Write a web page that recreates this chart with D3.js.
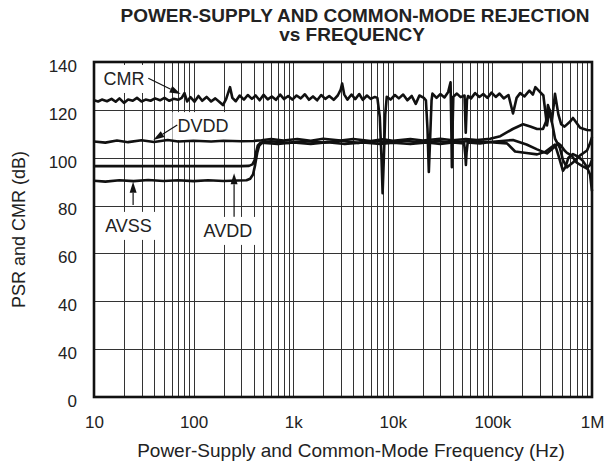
<!DOCTYPE html>
<html>
<head>
<meta charset="utf-8">
<script src="https://cdn.jsdelivr.net/npm/d3@7"></script>
<style>
  body { margin: 0; background: #fff; }
  text { font-family: "Liberation Sans", Arial, Helvetica, sans-serif; fill: #222; }
</style>
</head>
<body>
<svg width="614" height="464"></svg>
<script>
// tick values / labels (the source chart really prints "40" twice)
var yTicks = [0, 20, 40, 60, 80, 100, 120, 140];
var yTickLabels = ["0", "40", "40", "60", "80", "100", "120", "140"];
var xTicks = [10, 100, 1e3, 1e4, 1e5, 1e6];
var xTickLabels = ["10", "100", "1k", "10k", "100k", "1M"];

// [frequency Hz, dB]
var cmrData = [
  [10,124.0],[11,123.5],[12,124.3],[13.5,123.6],[15,124.6],[16.5,123.4],[18,124.8],[20,122.9],
  [22,124.3],[24.5,123.8],[27,125.0],[30,123.5],[33,124.3],[37,123.8],[41,124.8],[46,124.0],
  [51,125.0],[57,123.8],[63,124.6],[70,124.2],[76,125.0],[81,127.0],[86,123.5],[93,125.3],
  [102,123.4],[112,125.8],[122,123.8],[135,125.4],[150,123.5],[165,124.8],[182,123.3],[197,122.0],
  [212,124.5],[232,129.5],[245,125.0],[265,123.6],[290,126.0],[320,124.3],[350,126.2],[385,124.6],
  [420,126.0],[460,124.0],[505,126.3],[555,124.4],[610,125.6],[670,124.2],[740,126.4],[810,124.5],
  [890,125.8],[980,124.3],[1080,126.0],[1190,124.8],[1310,126.5],[1440,124.2],[1580,125.6],[1740,124.0],
  [1910,126.2],[2100,124.6],[2300,125.8],[2550,124.2],[2800,126.0],[3000,128.5],[3100,131.0],[3250,126.5],
  [3500,124.3],[3850,126.4],[4200,124.5],[4600,126.6],[5000,124.2],[5500,126.0],[6000,124.6],[6600,125.4],
  [7000,125.0],[7400,117],[7700,100],[7900,85.2],[8100,98],[8400,118],[8700,125.5],[9500,124.3],
  [10500,126.2],[11500,124.8],[12700,126.4],[14000,124.0],[15500,125.8],[17000,122.5],[18500,126.0],[20500,125.0],
  [21500,124],[22300,112],[23000,94.0],[23700,108],[24500,124],[25000,126.8],[27500,125.0],[30000,126.6],
  [33000,125.2],[36000,127.5],[38000,131.5],[38600,115],[39200,96],[39800,112],[40500,125.5],[44000,126.8],
  [48000,125.3],[52500,126.0],[54000,110.5],[55500,124],[57000,125.8],[61000,124.8],[67000,127.0],
  [74000,125.4],[81000,126.6],[89000,125.0],[98000,127.2],[108000,125.4],[118000,126.8],[130000,124.8],[145000,126.2],
  [161000,118.5],[175000,125.0],[190000,127.0],[210000,125.6],[235000,128.0],[255000,126.4],[270000,129.5],[300000,127.5],
  [325000,126.0],[353000,113.5],[375000,120],[395000,115],[425000,126.7],[460000,118],[490000,114],[530000,113],
  [600000,115],[644000,116.6],[760000,112.5],[891000,111.6],[1000000,111.5]
];

var dvddData = [
  [10,106.8],[13,106.3],[17,107.2],[22,106.5],[30,107.3],[40,106.6],[55,107.4],[70,106.8],
  [100,107.1],[150,106.8],[200,107.1],[300,106.9],[400,107.0],[480,107.3],[600,107.8],[800,107.2],
  [1100,107.8],[1500,107.1],[2000,107.9],[3000,107.2],[4000,107.8],[6000,107.0],[8000,107.7],[10000,107.1],
  [15000,107.8],[20000,107.2],[30000,107.9],[40000,107.3],[54000,107.8],[70000,107.4],[95000,107.9],[120000,109],
  [160000,112],[203000,114],[240000,113],[281000,112],[322000,112],[345000,115],[361000,122],[380000,119],
  [425000,108],[477000,104],[511000,99],[561000,96],[644000,98],[760000,101],[891000,103],[955000,106],[1000000,108.6]
];

var avddData = [
  [10,96.5],[100,96.5],[300,96.5],[360,96.6],[390,97.2],[410,99],[425,102.5],[440,105],
  [470,106.3],[520,106.2],[700,105.7],[1000,106.4],[1500,105.8],[2200,106.5],[3300,105.7],[5000,106.4],
  [7500,105.8],[10000,106.3],[15000,105.7],[22000,106.4],[30000,105.8],[40000,106.4],[52000,106.0],[53500,101],
  [54200,97],[55000,102],[56500,106.4],[75000,106.0],[95000,106.6],[161000,107.4],[220000,105.5],[281000,103.5],
  [353000,101.8],[425000,104.7],[460000,106],[490000,105],[530000,103],[561000,102],[620000,101],[700000,98],
  [800000,96.5],[891000,95.5],[955000,97],[1000000,99]
];

var avssData = [
  [10,90.4],[13,90.0],[18,90.6],[25,90.2],[35,90.7],[50,90.3],[70,90.6],[100,90.2],
  [140,90.6],[200,90.3],[280,90.5],[340,90.6],[370,91.2],[395,93],[415,97],[435,102],
  [455,105],[490,106.4],[600,106.9],[900,106.2],[1300,107.0],[2000,106.3],[3000,107.1],[4500,106.2],
  [7000,107.0],[9000,106.4],[13000,107.1],[20000,106.3],[28000,107.0],[38000,106.4],[60000,107.0],[95000,106.5],
  [140000,106],[169000,102.6],[220000,102],[281000,101.4],[340000,102.5],[425000,105.5],[460000,101],[511000,94.5],
  [540000,96],[580000,100],[644000,101.5],[720000,100.5],[800000,99],[891000,96],[955000,93],[1000000,86]
];

// annotations: label position and arrow (tail -> head), in data units
var notes = [
  { text: "CMR",  at: [20, 130.4],  from: [35.1, 133.2], to: [74.1, 126.6] },
  { text: "DVDD", at: [124, 110.7], from: [68.5, 113.7], to: [39.4, 107.4] },
  { text: "AVSS", at: [22.2, 69],   from: [24.7, 80.2],  to: [24.7, 90.0] },
  { text: "AVDD", at: [221, 66.9],  from: [255, 75.3],   to: [255, 93.5] }
];

var svg = d3.select("svg");
var plotLeft = 94, plotRight = 592, plotTop = 62, plotBottom = 397;

var x = d3.scaleLog().domain([10, 1e6]).range([plotLeft, plotRight]);
var y = d3.scaleLinear().domain([0, 140]).range([plotBottom, plotTop]);

// title
var title = svg.append("text")
    .attr("text-anchor", "middle")
    .style("font-weight", "bold")
    .style("font-size", "19px");
title.append("tspan").attr("x", 355).attr("y", 22).text("POWER-SUPPLY AND COMMON-MODE REJECTION");
title.append("tspan").attr("x", 352).attr("y", 41).text("vs FREQUENCY");

// grid
var minor = [];
for (var d = 10; d < 1e6; d *= 10) {
  for (var k = 1; k < 10; k++) if (d * k > 10) minor.push(d * k);
}
svg.append("g").selectAll("line")
  .data(minor)
  .enter().append("line")
    .attr("x1", function(v) { return Math.round(x(v)) + 0.5; })
    .attr("x2", function(v) { return Math.round(x(v)) + 0.5; })
    .attr("y1", plotTop).attr("y2", plotBottom)
    .attr("stroke", "#333").attr("stroke-width", 1);

svg.append("g").selectAll("line")
  .data(yTicks.slice(1, -1))
  .enter().append("line")
    .attr("x1", plotLeft).attr("x2", plotRight)
    .attr("y1", function(v) { return Math.round(y(v)) + 0.5; })
    .attr("y2", function(v) { return Math.round(y(v)) + 0.5; })
    .attr("stroke", "#333").attr("stroke-width", 1);

// axes labels (ticks drawn with d3 axes, lines hidden)
var xAxis = svg.append("g")
    .attr("transform", "translate(0," + plotBottom + ")")
    .call(d3.axisBottom(x).tickValues(xTicks).tickSize(0).tickPadding(19)
      .tickFormat(function(v, i) { return xTickLabels[i]; }));
xAxis.select(".domain").remove();
xAxis.selectAll("text").style("font-size", "17px").attr("fill", "#222")
    .style("font-family", "'Liberation Sans', Arial, sans-serif");

var yAxis = svg.append("g")
    .attr("transform", "translate(" + plotLeft + ",0)")
    .call(d3.axisLeft(y).tickValues(yTicks).tickSize(0).tickPadding(17)
      .tickFormat(function(v, i) { return yTickLabels[i]; }));
yAxis.select(".domain").remove();
yAxis.selectAll("text").style("font-size", "17px").attr("fill", "#222").attr("dy", "0.55em")
    .style("font-family", "'Liberation Sans', Arial, sans-serif");

svg.append("text")
    .attr("x", 351).attr("y", 457)
    .attr("text-anchor", "middle")
    .style("font-size", "19px")
    .text("Power-Supply and Common-Mode Frequency (Hz)");

svg.append("text")
    .attr("transform", "translate(25," + ((plotTop + plotBottom) / 2) + ") rotate(-90)")
    .attr("text-anchor", "middle")
    .style("font-size", "18px")
    .text("PSR and CMR (dB)");

// label backgrounds
var noteG = svg.append("g");
var labels = noteG.selectAll("text")
  .data(notes)
  .enter().append("text")
    .attr("x", function(d) { return x(d.at[0]); })
    .attr("y", function(d) { return y(d.at[1]); })
    .attr("text-anchor", "middle")
    .style("font-size", "18px")
    .text(function(d) { return d.text; });

labels.each(function() {
  var b = this.getBBox();
  noteG.insert("rect", "text")
      .attr("x", b.x - 5).attr("y", b.y - 4)
      .attr("width", b.width + 10).attr("height", b.height + 8)
      .attr("fill", "#fff");
});

// traces
var line = d3.line()
    .x(function(d) { return x(d[0]); })
    .y(function(d) { return y(d[1]); });

[avssData, avddData, dvddData, cmrData].forEach(function(s) {
  svg.append("path")
      .datum(s)
      .attr("d", line)
      .attr("fill", "none")
      .attr("stroke", "#111")
      .attr("stroke-width", 2.6)
      .attr("stroke-linejoin", "round");
});

// arrows
notes.forEach(function(n) {
  var x0 = x(n.from[0]), y0 = y(n.from[1]);
  var x1 = x(n.to[0]), y1 = y(n.to[1]);
  var a = Math.atan2(y1 - y0, x1 - x0);
  var len = 11, half = 3.5;
  var bx = x1 - len * Math.cos(a), by = y1 - len * Math.sin(a);
  svg.append("line")
      .attr("x1", x0).attr("y1", y0).attr("x2", bx).attr("y2", by)
      .attr("stroke", "#111").attr("stroke-width", 1.2);
  svg.append("path")
      .attr("d", "M" + x1 + "," + y1 +
        "L" + (bx + half * Math.sin(a)) + "," + (by - half * Math.cos(a)) +
        "L" + (bx - half * Math.sin(a)) + "," + (by + half * Math.cos(a)) + "Z")
      .attr("fill", "#111");
});

// frame
svg.append("rect")
    .attr("x", plotLeft).attr("y", plotTop)
    .attr("width", plotRight - plotLeft).attr("height", plotBottom - plotTop)
    .attr("fill", "none")
    .attr("stroke", "#111")
    .attr("stroke-width", 2.6);
</script>
</body>
</html>
